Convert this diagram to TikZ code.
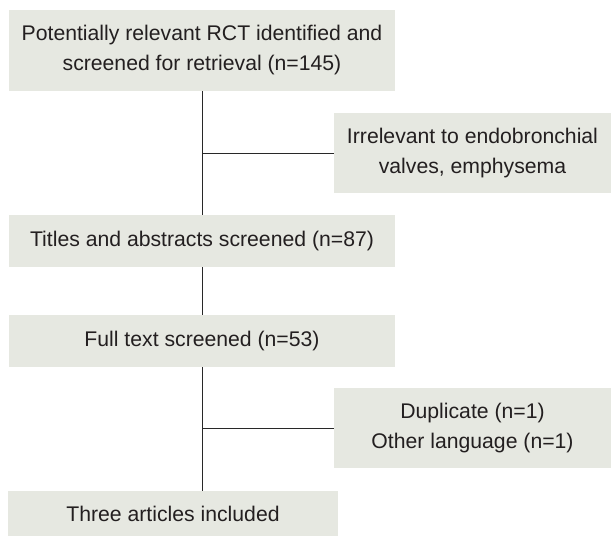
\documentclass[tikz,border=0pt]{standalone}
\usepackage{fontspec}
\setmainfont{Liberation Sans}
\definecolor{boxfill}{RGB}{230,232,225}
\definecolor{txt}{RGB}{35,31,32}
\definecolor{ln}{RGB}{40,40,40}
\begin{document}
\begin{tikzpicture}[x=1pt,y=-1pt,
  box/.style={fill=boxfill,draw=none,inner sep=0pt,align=center,text=txt,
    font=\fontsize{21.2}{30}\selectfont},
  conn/.style={draw=ln,line width=1pt}]
\useasboundingbox (0,0) rectangle (611,536);
\node[box,minimum width=386pt,minimum height=81pt] (b1) at (202,50.5)
  {Potentially relevant RCT identified and\\screened for retrieval (n=145)};
\node[box,minimum width=277pt,minimum height=80pt] (b2) at (472.5,153)
  {Irrelevant to endobronchial\\valves, emphysema};
\node[box,minimum width=386pt,minimum height=52pt] (b3) at (202,241)
  {Titles and abstracts screened (n=87)};
\node[box,minimum width=386pt,minimum height=52pt] (b4) at (202,341)
  {Full text screened (n=53)};
\node[box,minimum width=277pt,minimum height=80pt] (b5) at (472.5,428)
  {Duplicate (n=1)\\Other language (n=1)};
\node[box,minimum width=330pt,minimum height=45pt] (b6) at (173,513.5)
  {Three articles included};
\coordinate (j1) at (202,153);
\coordinate (j2) at (202,428);
\coordinate (t6) at (202,491);
\draw[conn] (b1.south) -- (b3.north);
\draw[conn] (j1) -- (b2.west);
\draw[conn] (b3.south) -- (b4.north);
\draw[conn] (b4.south) -- (t6);
\draw[conn] (j2) -- (b5.west);
\end{tikzpicture}
\end{document}
